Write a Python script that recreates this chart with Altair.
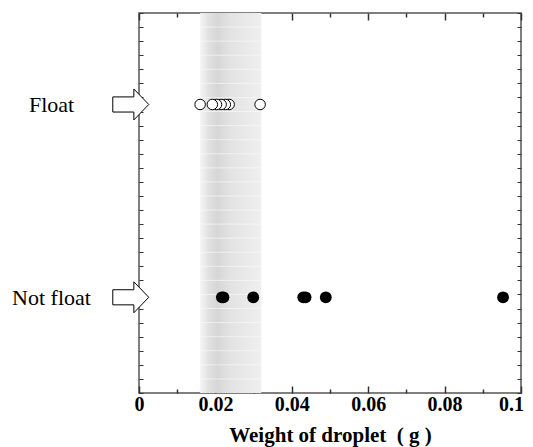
import altair as alt
import pandas as pd

# ---- data ----
categories = ["Float", "Not float"]
cat_level = [20.5, 6.8]
float_w = [0.0160, 0.0192, 0.0203, 0.0215, 0.0226, 0.0236, 0.0317]
notfloat_w = [0.0217, 0.0221, 0.0299, 0.0430, 0.0436, 0.0489, 0.0953]
band_range = [0.016, 0.032]
x_major = [0, 0.02, 0.04, 0.06, 0.08, 0.1]
x_minor = [0.01, 0.03, 0.05, 0.07, 0.09]
y_ticks = [0, 1, 2, 3, 4, 5, 6, 7, 8, 9, 10, 11, 12, 13, 14, 15, 16, 17, 18,
           19, 20, 21, 22, 23, 24, 25, 26, 27]
arrow_x = -0.00215

FONT = "Liberation Serif, Times New Roman, DejaVu Serif, serif"
TICK = "#333333"

pts_float = pd.DataFrame({"w": float_w, "level": cat_level[0]})
pts_not = pd.DataFrame({"w": notfloat_w, "level": cat_level[1]})
band_df = pd.DataFrame({"x0": [band_range[0]], "x1": [band_range[1]],
                        "y0": [y_ticks[0]], "y1": [y_ticks[-1]]})
grid_df = pd.DataFrame({"y": y_ticks[1:-1], "x0": band_range[0], "x1": band_range[1]})
arrow_df = pd.DataFrame({"x": [arrow_x, arrow_x], "level": cat_level})

xs = alt.Scale(domain=[x_major[0], x_major[-1]], nice=False, zero=False)
ys = alt.Scale(domain=[y_ticks[0], y_ticks[-1]], nice=False, zero=False)

ax_bottom_major = alt.Axis(orient="bottom", values=x_major, tickSize=7, offset=-7,
                           tickColor=TICK, tickWidth=1.5, domain=False, grid=False,
                           format="~g", labelFont=FONT, labelFontWeight="bold",
                           labelFontSize=20, labelColor="black", labelPadding=1,
                           labelFlush=False, labelOverlap=False,
                           labelOffset={"condition": {"test": f"datum.value >= {x_major[-1]}",
                                                      "value": -10},
                                        "value": 0},
                           title="Weight of droplet\u00a0\u00a0(\u00a0g\u00a0)",
                           titleFont=FONT, titleFontWeight="bold", titleFontSize=21,
                           titleColor="black", titlePadding=10)
ax_bottom_minor = alt.Axis(orient="bottom", values=x_minor, tickSize=4, offset=-4,
                           tickColor=TICK, tickWidth=1.5, domain=False, grid=False,
                           labels=False, title=None)
ax_top_major = alt.Axis(orient="top", values=x_major, tickSize=7, offset=-7,
                        tickColor=TICK, tickWidth=1.5, domain=False, grid=False,
                        labels=False, title=None)
ax_top_minor = alt.Axis(orient="top", values=x_minor, tickSize=4, offset=-4,
                        tickColor=TICK, tickWidth=1.5, domain=False, grid=False,
                        labels=False, title=None)
ax_left_labels = alt.Axis(orient="left", values=cat_level, ticks=False, tickSize=0,
                          domain=False, grid=False, title=None,
                          labelExpr=f"datum.value > 10 ? '{categories[0]}' : '{categories[1]}'",
                          labelAlign="center", labelBaseline="middle",
                          labelPadding=88, labelFont=FONT, labelFontSize=22,
                          labelColor="black")
ax_left_minor = alt.Axis(orient="left", values=y_ticks, tickSize=4, offset=-4,
                         tickColor=TICK, tickWidth=1, domain=False, grid=False,
                         labels=False, title=None)
ax_right_minor = alt.Axis(orient="right", values=y_ticks, tickSize=4, offset=-4,
                          tickColor=TICK, tickWidth=1, domain=False, grid=False,
                          labels=False, title=None)

band = alt.Chart(band_df).mark_rect(
    fill=alt.Gradient(
        gradient="linear", x1=0, x2=1, y1=0, y2=0,
        stops=[
            alt.GradientStop(color="#f5f5f5", offset=0),
            alt.GradientStop(color="#e0e0e0", offset=0.15),
            alt.GradientStop(color="#d6d6d6", offset=0.28),
            alt.GradientStop(color="#e3e3e3", offset=0.5),
            alt.GradientStop(color="#efefef", offset=1),
        ],
    )
).encode(
    x=alt.X("x0:Q", scale=xs, axis=ax_bottom_major),
    x2="x1:Q",
    y=alt.Y("y0:Q", scale=ys, axis=ax_left_labels),
    y2="y1:Q",
)

grid = alt.Chart(grid_df).mark_rule(color="#f8f8f8", strokeWidth=1, opacity=0.7).encode(
    x=alt.X("x0:Q", scale=xs, axis=ax_bottom_minor),
    x2="x1:Q",
    y=alt.Y("y:Q", scale=ys, axis=ax_left_minor),
)

float_layer = alt.Chart(pts_float).mark_point(
    shape="circle", filled=True, fill="white", stroke="black", strokeWidth=1,
    size=110, opacity=1
).encode(
    x=alt.X("w:Q", scale=xs, axis=ax_top_major),
    y=alt.Y("level:Q", scale=ys, axis=ax_right_minor),
    order=alt.Order("w:Q", sort="descending"),
)

not_layer = alt.Chart(pts_not).mark_point(
    shape="circle", filled=True, color="black", size=140, opacity=1
).encode(
    x=alt.X("w:Q", scale=xs, axis=ax_top_minor),
    y=alt.Y("level:Q", scale=ys, axis=None),
)

arrows = alt.Chart(arrow_df).mark_point(
    shape="M -1 -0.42 L 0.17 -0.42 L 0.17 -0.86 L 1 0 L 0.17 0.86 L 0.17 0.42 L -1 0.42 Z",
    size=1296, filled=True, fill="white", stroke="black", strokeWidth=1,
    opacity=1, clip=False
).encode(
    x=alt.X("x:Q", scale=xs, axis=None),
    y=alt.Y("level:Q", scale=ys, axis=None),
)

chart = alt.layer(band, grid, float_layer, not_layer, arrows).resolve_axis(
    x="independent", y="independent"
).properties(
    width=382, height=380,
    autosize=alt.AutoSizeParams(type="none"),
    padding={"left": 131, "top": 5, "right": 4, "bottom": 54},
    background="white",
).configure_view(stroke="#555555", strokeWidth=1.5)

chart.save("out.html", embed_options={"renderer": "svg", "actions": False})
